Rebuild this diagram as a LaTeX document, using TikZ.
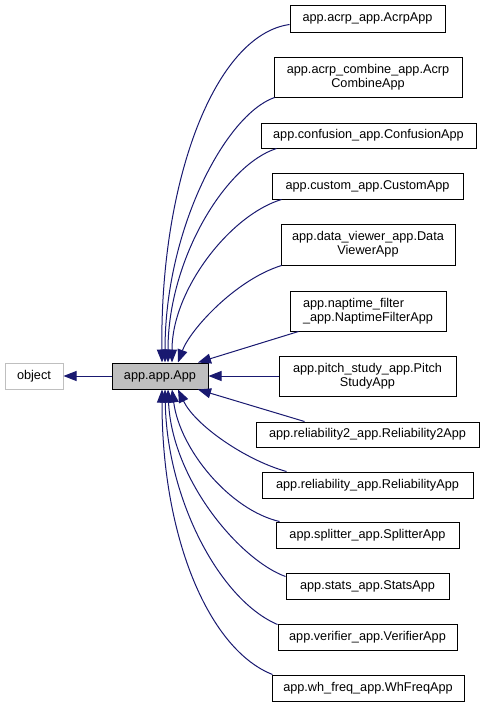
\documentclass[tikz,border=0pt]{standalone}
\usepackage{fontspec}
\setmainfont{Liberation Sans}
\usetikzlibrary{arrows.meta}
\definecolor{edgeblue}{HTML}{191970}
\definecolor{boxgray}{HTML}{BFBFBF}

\begin{document}
\begin{tikzpicture}[x=1pt, y=-1pt,
    cls/.style={draw=black, fill=white, line width=1pt, inner sep=0pt, align=center,
        font=\fontsize{12.7}{14.3}\selectfont, minimum height=26},
    inh/.style={draw=edgeblue, line width=1pt, {Triangle[length=13pt,width=10pt]}-}]
    \useasboundingbox (0,0) rectangle (485,707);

    % Base classes
    \node[cls, draw=boxgray, minimum width=58] (object) at (34,376) {object};
    \node[cls, fill=boxgray, minimum width=96] (app) at (160,376) {app.app.App};

    % Derived classes
    \node[cls, minimum width=155, minimum height=27] (acrp) at (367.5,18.5) {app.acrp\_app.AcrpApp};
    \node[cls, minimum width=188, minimum height=40] (combine) at (368,77) {app.acrp\_combine\_app.Acrp\\CombineApp};
    \node[cls, minimum width=215, minimum height=25] (confusion) at (368.5,135.5) {app.confusion\_app.ConfusionApp};
    \node[cls, minimum width=191] (custom) at (367.5,186) {app.custom\_app.CustomApp};
    \node[cls, minimum width=174, minimum height=41] (viewer) at (368,244.5) {app.data\_viewer\_app.Data\\ViewerApp};
    \node[cls, minimum width=156, minimum height=40, align=left] (naptime) at (368,311) {app.naptime\_filter\\\_app.NaptimeFilterApp};
    \node[cls, minimum width=177, minimum height=40] (pitch) at (367.5,376) {app.pitch\_study\_app.Pitch\\StudyApp};
    \node[cls, minimum width=223, minimum height=25] (reltwo) at (367.5,434.5) {app.reliability2\_app.Reliability2App};
    \node[cls, minimum width=211] (rel) at (367.5,485) {app.reliability\_app.ReliabilityApp};
    \node[cls, minimum width=183] (splitter) at (367.5,535) {app.splitter\_app.SplitterApp};
    \node[cls, minimum width=163] (stats) at (367.5,586) {app.stats\_app.StatsApp};
    \node[cls, minimum width=179] (verifier) at (367.5,637) {app.verifier\_app.VerifierApp};
    \node[cls, minimum width=192] (whfreq) at (368,688) {app.wh\_freq\_app.WhFreqApp};

    % Inheritance edges
    \draw[inh] (object) -- (app);
    \draw[inh] ([xshift=2]app.north) .. controls (160,180) and (215,35) .. ([yshift=-6]acrp.west);
    \draw[inh] ([xshift=5]app.north) .. controls (165,230) and (225,115) .. ([xshift=1]combine.south west);
    \draw[inh] ([xshift=8]app.north) .. controls (168,260) and (225,165) .. ([xshift=16]confusion.south west);
    \draw[inh] ([xshift=12]app.north) .. controls (172,290) and (230,215) .. ([xshift=10]custom.south west);
    \draw[inh] ([xshift=18]app.north) .. controls (190,330) and (235,280) .. ([xshift=1]viewer.south west);
    \draw[inh] ([xshift=38]app.north) -- ([xshift=9]naptime.south west);
    \draw[inh] (app) -- (pitch);
    \draw[inh] ([xshift=38]app.south) -- ([xshift=49]reltwo.north west);
    \draw[inh] ([xshift=18]app.south) .. controls (195,425) and (245,460) .. ([xshift=25]rel.north west);
    \draw[inh] ([xshift=12]app.south) .. controls (180,450) and (230,510) .. ([xshift=4]splitter.north west);
    \draw[inh] ([xshift=8]app.south) .. controls (172,480) and (240,560) .. ([yshift=-4]stats.north west);
    \draw[inh] ([xshift=5]app.south) .. controls (167,500) and (220,600) .. ([yshift=-1]verifier.north west);
    \draw[inh] ([xshift=2]app.south) .. controls (162,540) and (210,650) .. ([xshift=1]whfreq.north west);
\end{tikzpicture}
\end{document}
